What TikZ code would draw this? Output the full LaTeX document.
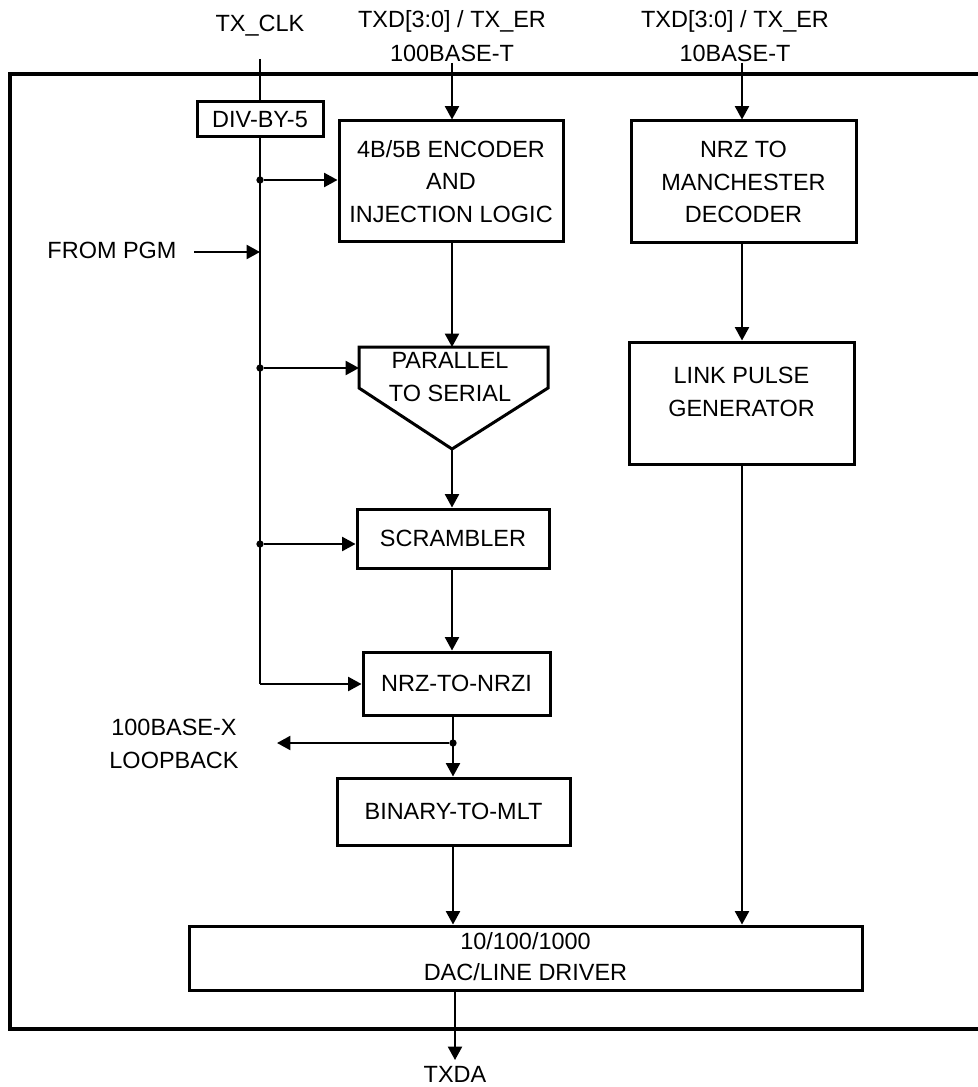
\documentclass[tikz,border=0pt]{standalone}
\usepackage{fontspec}
\setmainfont{Liberation Sans}
\usetikzlibrary{arrows.meta}
\begin{document}
\begin{tikzpicture}[x=0.75pt,y=-0.75pt,
  font=\fontsize{17.6}{23.25}\selectfont,
  blk/.style={draw,line width=2.25pt,fill=white,inner sep=0pt,align=center},
  lbl/.style={inner sep=0pt,align=center},
  conn/.style={line width=1.5pt},
  arr/.style={conn,-{Triangle[length=10pt,width=10.5pt]}},
  jdot/.style={circle,fill=black,inner sep=0pt,minimum size=5.5pt}]
\useasboundingbox (0,0) rectangle (977,1087);
% frame
\draw[line width=2.6pt] (985,74) -- (10,74) -- (10,1029) -- (985,1029);
% top labels
\node[lbl] (txclk) at (260,26) {TX\_CLK};
\node[lbl] (txd1) at (452,36) {TXD[3:0] / TX\_ER\\[2pt]100BASE-T};
\node[lbl] (txd2) at (735,36) {TXD[3:0] / TX\_ER\\[2pt]10BASE-T};
\coordinate (clktop) at (260,59);
\coordinate (t1) at (452,63);
\coordinate (t2) at (742,63);
\coordinate (clkbend) at (260,684);
% clock line (behind)
\draw[conn] (clktop) -- (clkbend);
% blocks
\node[blk,minimum width=94.5pt,minimum height=26.25pt] (div) at (260,119.5) {DIV-BY-5};
\node[blk,minimum width=168pt,minimum height=90.75pt] (enc) at (451,181.5) {4B/5B ENCODER\\[1pt]AND\\[1pt]INJECTION LOGIC};
\node[blk,minimum width=168.75pt,minimum height=91.5pt] (man) at (743.5,182) {NRZ TO\\[1pt]MANCHESTER\\[1pt]DECODER};
\node[blk,minimum width=168.75pt,minimum height=91.5pt] (lpg) at (741.5,403) {};
\node[lbl] (lpgt) at (741.5,392) {LINK PULSE\\[1pt]GENERATOR};
\draw[line width=2.25pt,line join=miter] (359,347) -- (548,347) -- (548,388) -- (452,449) -- (359,388) -- cycle;
\node[lbl] (pts) at (450,377) {PARALLEL\\[1pt]TO SERIAL};
\coordinate (ptstop) at (452,347);
\coordinate (ptsleft) at (359,368);
\coordinate (ptsapex) at (452,449);
\node[blk,minimum width=144pt,minimum height=44.25pt] (scr) at (453,538.5) {SCRAMBLER};
\node[blk,minimum width=140.25pt,minimum height=47.25pt] (nrz) at (456.5,683.5) {NRZ-TO-NRZI};
\node[blk,minimum width=174.75pt,minimum height=50.25pt] (mlt) at (453.5,811.5) {BINARY-TO-MLT};
\node[blk,minimum width=504.75pt,minimum height=48pt] (dac) at (525.5,958) {};
\node[lbl] (dact) at (525.5,957) {10/100/1000\\[0pt]DAC/LINE DRIVER};
% side labels
\node[lbl] (pgm) at (112,250) {FROM PGM};
\node[lbl] (loop) at (174,744) {100BASE-X\\[1pt]LOOPBACK};
\node[lbl] (txda) at (455,1074) {TXDA};
% junctions
\node[jdot] (j1) at (260,180) {};
\node[jdot] (j2) at (260,368) {};
\node[jdot] (j3) at (260,544) {};
\node[jdot] (j4) at (453,743) {};
\coordinate (pgmend) at (194,252);
\coordinate (pgmtip) at (260,252);
\coordinate (looptip) at (277,743);
\coordinate (txdatip) at (455,1060);
% connectors
\draw[arr] (t1) -- (t1 |- enc.north);
\draw[arr] (t2) -- (t2 |- man.north);
\draw[arr] (j1) -- (j1 -| enc.west);
\draw[arr] (pgmend) -- (pgmtip);
\draw[arr] (j2) -- (ptsleft);
\draw[arr] (j3) -- (j3 -| scr.west);
\draw[arr] (clkbend) -- (clkbend -| nrz.west);
\draw[arr] (ptstop |- enc.south) -- (ptstop);
\draw[arr] (ptsapex) -- (ptsapex |- scr.north);
\draw[arr] (ptsapex |- scr.south) -- (ptsapex |- nrz.north);
\draw[arr] (j4 |- nrz.south) -- (j4 |- mlt.north);
\draw[arr] (j4) -- (looptip);
\draw[arr] (j4 |- mlt.south) -- (j4 |- dac.north);
\draw[arr] (t2 |- man.south) -- (t2 |- lpg.north);
\draw[arr] (t2 |- lpg.south) -- (t2 |- dac.north);
\draw[arr] (txdatip |- dac.south) -- (txdatip);
\end{tikzpicture}
\end{document}
